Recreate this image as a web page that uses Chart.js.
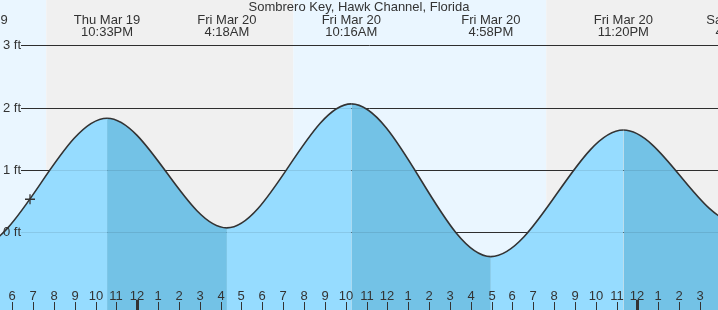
<!DOCTYPE html>
<html>
<head>
<meta charset="utf-8">
<script src="https://cdn.jsdelivr.net/npm/chart.js@4/dist/chart.umd.min.js"></script>
<style>
html,body{margin:0;padding:0;background:#fff;}
#c{display:block;}
</style>
</head>
<body>
<canvas id="c" width="718" height="310"></canvas>
<script>
// Hours are measured from midnight at the start of Fri Mar 20.
const chartTitle = 'Sombrero Key, Hawk Channel, Florida';
const eventTimes   = [-13.9, -7.82, -1.45, 4.30, 10.27, 16.97, 23.33, 28.83, 35.0];
const eventHeights = [1.70, -0.26, 1.83, 0.07, 2.06, -0.39, 1.64, 0.15, 2.00];
const eventDays    = ['Thu Mar 19','Thu Mar 19','Thu Mar 19','Fri Mar 20','Fri Mar 20','Fri Mar 20','Fri Mar 20','Sat Mar 21','Sat Mar 21'];
const eventClock   = ['10:06AM','4:11PM','10:33PM','4:18AM','10:16AM','4:58PM','11:20PM','4:50AM','11:00AM'];

const sunTimes  = [-4.37, 7.49, 19.63];          // sunset, sunrise, sunset
const sunStates = ['day','night','day','night']; // state before / between / after

const yTicks      = [0, 1, 2, 3];
const yTickLabels = ['0 ft', '1 ft', '2 ft', '3 ft'];

const hourTicks  = [-6,-5,-4,-3,-2,-1,0,1,2,3,4,5,6,7,8,9,10,11,12,13,14,15,16,17,18,19,20,21,22,23,24,25,26,27];
const hourLabels = ['6','7','8','9','10','11','12','1','2','3','4','5','6','7','8','9','10','11','12','1','2','3','4','5','6','7','8','9','10','11','12','1','2','3'];

const nowTime = -5.15;
const nowHeight = 0.53;

const xMin = -6.59, xMax = 27.87;
const yMin = -1.247, yMax = 3.727;

const COL_DAY = 'rgb(234,246,255)';
const COL_NIGHT = 'rgb(240,240,240)';
const COL_RISE = 'rgb(150,220,255)';
const COL_FALL = 'rgb(115,194,230)';
const TXT = '#333';
const FONT = '13px "Liberation Sans", Arial, sans-serif';

const tidePoints = eventTimes.map((t, i) => ({x: t, y: eventHeights[i]}));

const decor = {
  id: 'decor',
  beforeDatasetsDraw(chart) {
    const {ctx, chartArea: a, scales: {x, y}} = chart;
    ctx.save();
    const edges = [xMin, ...sunTimes, xMax];
    for (let i = 0; i < edges.length - 1; i++) {
      const x0 = x.getPixelForValue(edges[i]);
      const x1 = x.getPixelForValue(edges[i + 1]);
      ctx.fillStyle = sunStates[i] === 'day' ? COL_DAY : COL_NIGHT;
      ctx.fillRect(x0, a.top, x1 - x0, a.bottom - a.top);
    }
    ctx.strokeStyle = '#333';
    ctx.lineWidth = 1;
    yTicks.forEach(v => {
      const py = Math.round(y.getPixelForValue(v)) + 0.5;
      ctx.beginPath();
      ctx.moveTo(21, py);
      ctx.lineTo(a.right, py);
      ctx.stroke();
    });
    ctx.restore();
  },
  beforeDatasetDraw(chart, args) {
    if (args.index !== 0) return;
    const {ctx, chartArea: a, scales: {y}} = chart;
    ctx.save();
    ctx.strokeStyle = 'rgba(0,0,0,0.09)';
    ctx.lineWidth = 1;
    yTicks.forEach(v => {
      const py = Math.round(y.getPixelForValue(v)) + 0.5;
      ctx.beginPath();
      ctx.moveTo(21, py);
      ctx.lineTo(a.right, py);
      ctx.stroke();
    });
    ctx.fillStyle = TXT;
    ctx.font = FONT;
    ctx.textAlign = 'left';
    ctx.textBaseline = 'middle';
    yTicks.forEach((v, i) => {
      ctx.fillText(yTickLabels[i], 3, y.getPixelForValue(v) + 0.5);
    });
    ctx.restore();
  },
  afterDatasetsDraw(chart) {
    const {ctx, chartArea: a, scales: {x}} = chart;
    ctx.save();
    ctx.fillStyle = TXT;
    ctx.font = FONT;
    ctx.textAlign = 'center';
    ctx.textBaseline = 'middle';
    ctx.fillText(chartTitle, (a.left + a.right) / 2, 7.5);
    eventTimes.forEach((t, i) => {
      const px = x.getPixelForValue(t);
      ctx.fillText(eventDays[i], px, 20);
      ctx.fillText(eventClock[i], px, 32.5);
    });
    hourTicks.forEach((h, i) => {
      const px = Math.round(x.getPixelForValue(h));
      const midnight = h % 24 === 0;
      ctx.fillStyle = TXT;
      ctx.fillText(hourLabels[i], px, 296.5);
      if (midnight) {
        ctx.fillRect(px - 1, 300, 3, a.bottom - 300);
      } else {
        ctx.fillRect(px, 302, 1, a.bottom - 302);
      }
    });
    ctx.restore();
  }
};

new Chart(document.getElementById('c'), {
  type: 'line',
  data: {
    datasets: [
      {
        data: tidePoints,
        order: 2,
        borderColor: '#333',
        borderWidth: 1.6,
        pointRadius: 0,
        fill: 'start',
        backgroundColor: COL_RISE,
        cubicInterpolationMode: 'monotone',
        segment: {
          backgroundColor: c => (c.p1.parsed.y < c.p0.parsed.y ? COL_FALL : COL_RISE)
        }
      },
      {
        data: [{x: nowTime, y: nowHeight}],
        order: 1,
        showLine: false,
        fill: false,
        pointStyle: 'cross',
        pointRadius: 5,
        pointBorderColor: '#333',
        pointBorderWidth: 1.3,
        pointBackgroundColor: '#333'
      }
    ]
  },
  options: {
    responsive: false,
    animation: false,
    events: [],
    layout: {padding: 0, autoPadding: false},
    plugins: {legend: {display: false}, title: {display: false}, tooltip: {enabled: false}},
    scales: {
      x: {type: 'linear', min: xMin, max: xMax, display: false},
      y: {type: 'linear', min: yMin, max: yMax, display: false}
    }
  },
  plugins: [decor]
});
</script>
</body>
</html>
